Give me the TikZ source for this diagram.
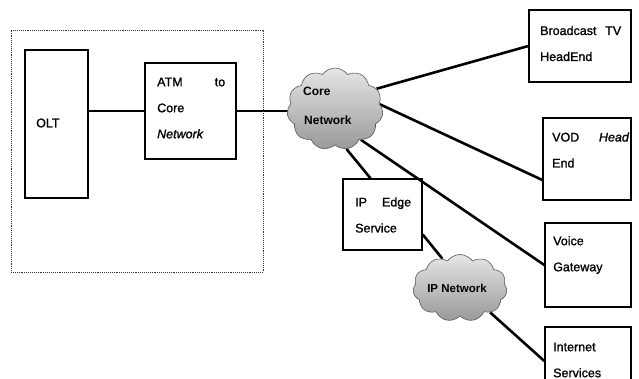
\documentclass[tikz,border=0pt]{standalone}
\usepackage{fontspec}
\setmainfont{Liberation Sans}
\newfontfamily\scanfont[FakeBold=1.2]{Liberation Sans}
\usetikzlibrary{shapes.symbols,backgrounds}
\begin{document}
\begin{tikzpicture}[x=1pt,y=-1pt,
  boxnode/.style={draw, line width=1.4pt, inner sep=0pt},
  lbl/.style={inner sep=0pt, align=left, font=\scanfont\fontsize{12.5}{26}\selectfont, anchor=west},
  conn/.style={line width=2.6pt},
  cloudnode/.style={cloud, cloud puffs=11, cloud puff arc=110, draw=gray!70!black, line width=0.6pt, top color=gray!20, bottom color=gray!80, inner sep=0pt},
  cloudlbl/.style={inner sep=0pt, font=\bfseries\fontsize{12}{14}\selectfont}]

\useasboundingbox (0,0) rectangle (639,378);
\clip (0,0) rectangle (639,378);

% outer dotted frame
\node[draw=gray!40!black, densely dotted, line width=0.9pt, minimum width=252pt, minimum height=242pt, inner sep=0pt] (outer) at (137,151) {};

% boxes
\node[boxnode, minimum width=63pt, minimum height=148pt] (olt) at (56.5,124) {};
\node[lbl] (oltt) at (36,123) {OLT};

\node[boxnode, minimum width=91pt, minimum height=96pt] (atm) at (190.5,111) {};
\node[lbl, text width=68pt] (atmt) at (157,108) {ATM\hfill to\\Core\\\textit{Network}};

\node[boxnode, minimum width=102pt, minimum height=72pt] (bcast) at (580,46) {};
\node[lbl, text width=81pt] (bcastt) at (540,43.5) {Broadcast\hfill TV\\HeadEnd};

\node[boxnode, minimum width=88pt, minimum height=82pt] (vod) at (587,159) {};
\node[lbl, text width=77pt] (vodt) at (552,150) {VOD\hfill\textit{Head}\\End};

\node[boxnode, minimum width=86pt, minimum height=84pt] (voice) at (588,265) {};
\node[lbl, text width=70pt] (voicet) at (553,255) {Voice\\Gateway};

\node[boxnode, minimum width=86pt, minimum height=68pt] (internet) at (588,361) {};
\node[lbl, text width=70pt] (internett) at (553,360) {Internet\\Services};

\node[boxnode, minimum width=79pt, minimum height=71pt] (ipedge) at (382.5,214.5) {};
\node[lbl, text width=56pt] (ipedget) at (355,215) {IP\hfill Edge\\Service};

% clouds
\node[cloudnode, minimum width=96pt, minimum height=82pt] (core) at (335,109) {};
\node[cloudlbl, anchor=west] (corel) at (303,91) {Core};
\node[cloudlbl, anchor=west] (corenet) at (304,120) {Network};

\node[cloudnode, minimum width=94pt, minimum height=67pt] (ipnet) at (460,288) {};
\node[cloudlbl, font=\bfseries\fontsize{11.5}{14}\selectfont] (ipnetl) at (457,288) {IP Network};

% connectors
\begin{scope}[on background layer]
\draw[conn] (olt.east |- atm.west) -- (atm.west);
\draw[conn] (atm.east) -- (core.center |- atm.east);
\draw[conn] (core.26) -- (bcast.west);
\draw[conn] (core.6) -- ([yshift=-21pt]vod.west);
\draw[conn] (core.-50) -- (voice.west);
\draw[conn] (core.-74) -- ([xshift=-12pt]ipedge.north);
\draw[conn] ([yshift=-20pt]ipedge.east) -- (ipnet.121);
\draw[conn] (ipnet.-39) -- (internet.west);
\end{scope}
\end{tikzpicture}
\end{document}
